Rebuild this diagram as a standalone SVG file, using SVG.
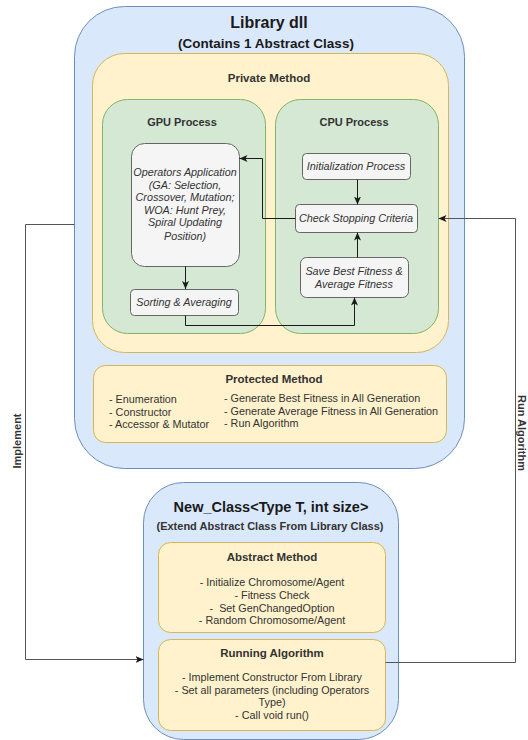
<svg xmlns="http://www.w3.org/2000/svg" width="528" height="740" viewBox="0 0 528 740">
<style>
text{font-family:"Liberation Sans",Arial,sans-serif;fill:#333333}
.blue{fill:#dae8fc;stroke:#6c8ebf;stroke-width:1}
.yel{fill:#fff2cc;stroke:#d6b656;stroke-width:1}
.grn{fill:#d5e8d4;stroke:#82b366;stroke-width:1}
.gry{fill:#f5f5f5;stroke:#666666;stroke-width:1}
.b{font-weight:bold}
.c{text-anchor:middle}
.it{font-style:italic;font-size:10.8px}
.s10{font-size:10.8px}
.in{fill:none;stroke:#1a1a1a;stroke-width:1}
.out{fill:none;stroke:#555555;stroke-width:1}
</style>
<defs>
<marker id="arr" markerUnits="userSpaceOnUse" markerWidth="9" markerHeight="8" refX="8" refY="4" orient="auto">
<path d="M0,0.5 L8,4 L0,7.5 L2,4 z" fill="#1a1a1a"/>
</marker>
</defs>
<rect width="528" height="740" fill="#ffffff"/>
<g id="library">
<rect class="blue" x="74.5" y="6.5" width="390" height="462" rx="50"/>
<text class="b c" x="269" y="28" font-size="16" style="fill:#1a1a1a">Library dll</text>
<text class="b c" x="266" y="48" font-size="13.5" style="fill:#1a1a1a">(Contains 1 Abstract Class)</text>
</g>
<g id="private">
<rect class="yel" x="92.5" y="53.5" width="356" height="299" rx="32"/>
<text class="b c" x="269" y="82" font-size="11.5">Private Method</text>
</g>
<g id="gpu">
<rect class="grn" x="102.5" y="99.5" width="163" height="234" rx="25"/>
<text class="b c" x="182" y="126" font-size="11">GPU Process</text>
</g>
<g id="cpu">
<rect class="grn" x="275.5" y="99.5" width="163" height="234" rx="25"/>
<text class="b c" x="354" y="126" font-size="11">CPU Process</text>
</g>
<g id="operators">
<rect class="gry" x="131.5" y="143.5" width="108" height="123" rx="13"/>
<text class="it c" x="185" y="176">Operators Application</text>
<text class="it c" x="185" y="189">(GA: Selection,</text>
<text class="it c" x="185" y="201">Crossover, Mutation;</text>
<text class="it c" x="185" y="214">WOA: Hunt Prey,</text>
<text class="it c" x="185" y="226">Spiral Updating</text>
<text class="it c" x="185" y="240">Position)</text>
</g>
<g id="sorting">
<rect class="gry" x="130.5" y="289.5" width="108" height="26" rx="4"/>
<text class="it c" x="184" y="306">Sorting &amp; Averaging</text>
</g>
<g id="init">
<rect class="gry" x="302.5" y="153.5" width="108" height="26" rx="4"/>
<text class="it c" x="356" y="170">Initialization Process</text>
</g>
<g id="check">
<rect class="gry" x="295.5" y="204.5" width="122" height="28" rx="4"/>
<text class="it c" x="356" y="222">Check Stopping Criteria</text>
</g>
<g id="save">
<rect class="gry" x="300.5" y="257.5" width="108" height="40" rx="6"/>
<text class="it c" x="354" y="275">Save Best Fitness &amp;</text>
<text class="it c" x="354" y="288">Average Fitness</text>
</g>
<g id="protected">
<rect class="yel" x="93.5" y="365.5" width="353" height="77" rx="12"/>
<text class="b c" x="274" y="383" font-size="11.5">Protected Method</text>
<text class="s10" x="109" y="403">- Enumeration</text>
<text class="s10" x="109" y="416">- Constructor</text>
<text class="s10" x="109" y="428">- Accessor &amp; Mutator</text>
<text class="s10" x="224" y="402">- Generate Best Fitness in All Generation</text>
<text class="s10" x="224" y="415">- Generate Average Fitness in All Generation</text>
<text class="s10" x="224" y="427">- Run Algorithm</text>
</g>
<g id="newclass">
<rect class="blue" x="143.5" y="482.5" width="255" height="257" rx="40"/>
<text class="b c" x="271" y="512" font-size="14.5" style="fill:#1a1a1a">New_Class&lt;Type T, int size&gt;</text>
<text class="b c" x="270" y="530" font-size="11">(Extend Abstract Class From Library Class)</text>
</g>
<g id="abstract">
<rect class="yel" x="158.5" y="542.5" width="227" height="90" rx="12"/>
<text class="b c" x="272" y="561" font-size="11.5">Abstract Method</text>
<text class="s10 c" x="272" y="586">- Initialize Chromosome/Agent</text>
<text class="s10 c" x="272" y="599">- Fitness Check</text>
<text class="s10 c" x="272" y="612" xml:space="preserve">-  Set GenChangedOption</text>
<text class="s10 c" x="272" y="624">- Random Chromosome/Agent</text>
</g>
<g id="running">
<rect class="yel" x="158.5" y="639.5" width="227" height="91" rx="12"/>
<text class="b c" x="272" y="657" font-size="11.5">Running Algorithm</text>
<text class="s10 c" x="272" y="681">- Implement Constructor From Library</text>
<text class="s10 c" x="272" y="694">- Set all parameters (including Operators</text>
<text class="s10 c" x="272" y="706">Type)</text>
<text class="s10 c" x="272" y="719">- Call void run()</text>
</g>
<g id="connectors">
<path class="in" d="M185.5,266.5 V289" marker-end="url(#arr)"/>
<path class="in" d="M185.5,315.5 V325.5 H354.5 V297.5" marker-end="url(#arr)"/>
<path class="in" d="M357.5,179.5 V204.5" marker-end="url(#arr)"/>
<path class="in" d="M357.5,257.5 V232.5" marker-end="url(#arr)"/>
<path class="in" d="M295.5,218.5 H262.5 V158.5 H239.5" marker-end="url(#arr)"/>
<path class="out" d="M74.5,224.5 H25.5 V659.5 H143.5" marker-end="url(#arr)"/>
<path class="out" d="M385.5,662.5 H515.5 V218.5 H438.5" marker-end="url(#arr)"/>
<text class="b c" font-size="11" transform="translate(21,441) rotate(-90)">Implement</text>
<text class="b c" font-size="11" transform="translate(518,433) rotate(90)">Run Algorithm</text>
</g>
</svg>
